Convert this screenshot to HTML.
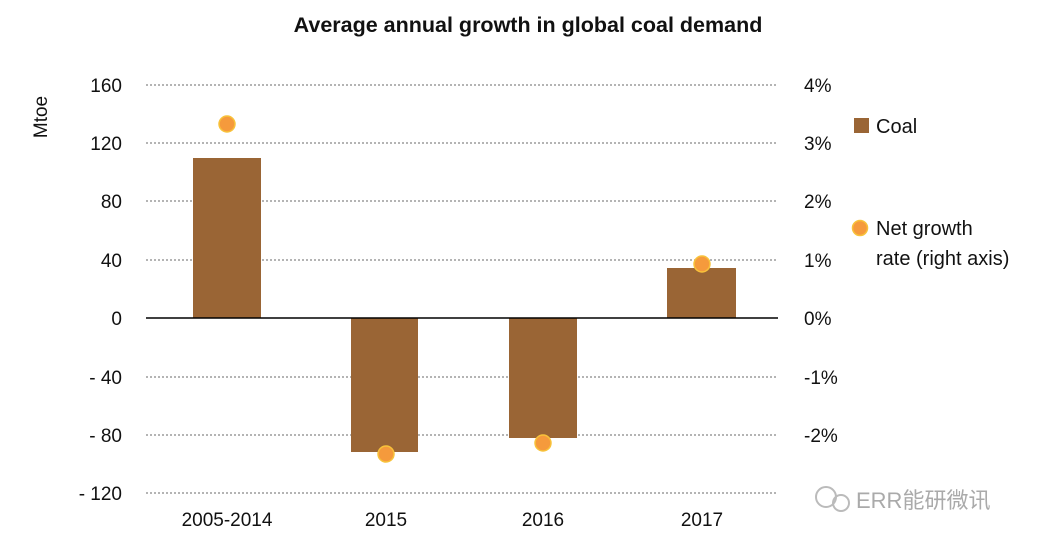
<!DOCTYPE html><html><head><meta charset="utf-8"><style>body{margin:0;background:#fff}svg{display:block}text{font-family:"Liberation Sans","Noto Sans CJK SC",sans-serif}</style></head><body>
<svg width="1043" height="548" viewBox="0 0 1043 548">
<text x="528" y="32" text-anchor="middle" font-size="21.5" font-weight="bold" fill="#111">Average annual growth in global coal demand</text>
<g stroke="#888" stroke-width="1.3" stroke-dasharray="2,2">
<line x1="146" y1="85" x2="778" y2="85"/><line x1="146" y1="143" x2="778" y2="143"/><line x1="146" y1="201" x2="778" y2="201"/><line x1="146" y1="260" x2="778" y2="260"/><line x1="146" y1="377" x2="778" y2="377"/><line x1="146" y1="435" x2="778" y2="435"/><line x1="146" y1="493" x2="778" y2="493"/></g>
<g fill="#9A6535"><rect x="193" y="158" width="68" height="160"/><rect x="351" y="318" width="67" height="134"/><rect x="509" y="318" width="68" height="120"/><rect x="667" y="268" width="69" height="50"/></g>
<line x1="146" y1="318" x2="778" y2="318" stroke="#000" stroke-width="1.5"/>
<g fill="#F59A3C" stroke="#F8C23A" stroke-width="1.5"><circle cx="227" cy="124" r="8"/><circle cx="386" cy="454" r="8"/><circle cx="543" cy="443" r="8"/><circle cx="702" cy="264" r="8"/></g>
<g font-size="19" fill="#111" text-anchor="end"><text x="122" y="92">160</text><text x="122" y="150">120</text><text x="122" y="208">80</text><text x="122" y="267">40</text><text x="122" y="325">0</text><text x="122" y="384">- 40</text><text x="122" y="442">- 80</text><text x="122" y="500">- 120</text></g>
<g font-size="19" fill="#111"><text x="804" y="92">4%</text><text x="804" y="150">3%</text><text x="804" y="208">2%</text><text x="804" y="267">1%</text><text x="804" y="325">0%</text><text x="804" y="384">-1%</text><text x="804" y="442">-2%</text></g>
<text transform="translate(47,117) rotate(-90)" text-anchor="middle" font-size="19" fill="#111">Mtoe</text>
<g font-size="19" fill="#111" text-anchor="middle"><text x="227" y="526">2005-2014</text><text x="386" y="526">2015</text><text x="543" y="526">2016</text><text x="702" y="526">2017</text></g>
<rect x="854" y="118" width="15" height="15" fill="#9A6535"/><text x="876" y="133" font-size="20" fill="#111">Coal</text>
<circle cx="860" cy="228" r="7.5" fill="#F59A3C" stroke="#F8C23A" stroke-width="1.5"/>
<text x="876" y="235" font-size="20" fill="#111">Net growth</text><text x="876" y="265" font-size="20" fill="#111">rate (right axis)</text>
<text x="856" y="508" font-size="22" fill="#aaa">ERR能研微讯</text>
<circle cx="826" cy="497" r="10" fill="none" stroke="#bbb" stroke-width="2"/><circle cx="841" cy="503" r="8" fill="none" stroke="#bbb" stroke-width="2"/>
</svg></body></html>
